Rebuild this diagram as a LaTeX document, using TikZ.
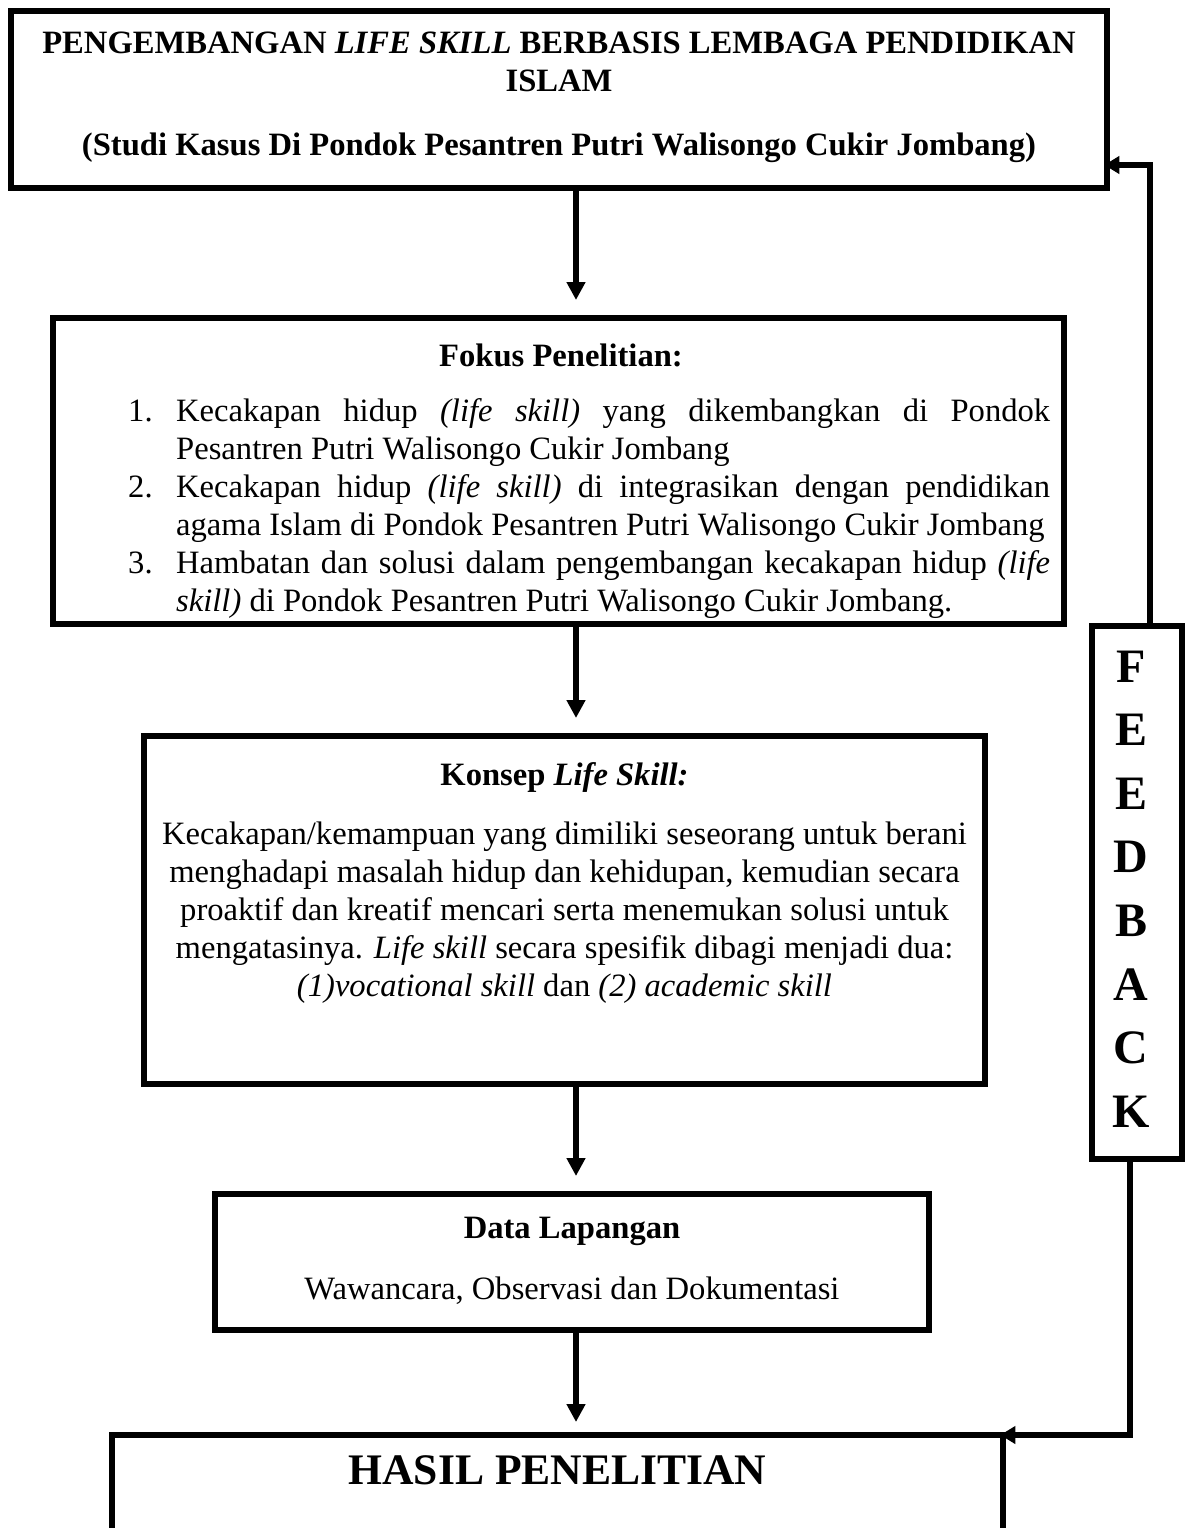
\documentclass[tikz,border=0pt]{standalone}
\usepackage{fontspec}
\setmainfont{Liberation Serif}
\usetikzlibrary{arrows.meta}
\newcommand\myBody{\fontsize{32.6pt}{38pt}\selectfont}
\newcommand\myBig{\fontsize{43.6pt}{50pt}\selectfont\bfseries}
\newcommand\myFb{\fontsize{48pt}{56pt}\selectfont\bfseries}
\begin{document}
\begin{tikzpicture}[x=1pt,y=-1pt,
  box/.style={draw, line width=5.5pt, outer sep=0pt, inner sep=0pt, anchor=north west},
  arr/.style={line width=5.5pt, -{Triangle[width=18pt,length=18pt]}},
  fbarr/.style={line width=5.5pt, -{Triangle[width=17pt,length=15pt]}},
  txt/.style={anchor=base, inner sep=0pt, font=\myBody},
  ttl/.style={anchor=base, inner sep=0pt, font=\myBody\bfseries},
  item/.style={anchor=base west, inner sep=0pt, font=\myBody, text width=874pt, align=justify},
  num/.style={anchor=base west, inner sep=0pt, font=\myBody},
  fbl/.style={anchor=base, inner sep=0pt, font=\myFb}]
\useasboundingbox (0,0) rectangle (1185,1528);
\clip (0,0) rectangle (1185,1528);
\fill[white] (0,0) rectangle (1185,1528);

% boxes
\node[box, minimum width=1096pt, minimum height=177pt] (top) at (11,11) {};
\node[box, minimum width=1011pt, minimum height=306pt] (fokus) at (53,318) {};
\node[box, minimum width=841pt, minimum height=348pt] (konsep) at (144,736) {};
\node[box, minimum width=714pt, minimum height=136pt] (data) at (215,1194) {};
\node[box, minimum width=891pt, minimum height=150pt] (hasil) at (112,1435) {};
\node[box, minimum width=90pt, minimum height=533pt] (fb) at (1092,626) {};

% top title
\node[ttl] (t1) at (559,54) {PENGEMBANGAN \textit{LIFE SKILL} BERBASIS LEMBAGA PENDIDIKAN};
\node[ttl] (t2) at (559,92) {ISLAM};
\node[ttl] (t3) at (559,155) {(Studi Kasus Di Pondok Pesantren Putri Walisongo Cukir Jombang)};

% fokus
\node[ttl] (f0) at (561,366) {Fokus Penelitian:};
\node[num] (n1) at (128,421) {1.};
\node[item] (f1) at (176,421) {Kecakapan hidup \textit{(life skill)} yang dikembangkan di Pondok\linebreak Pesantren Putri Walisongo Cukir Jombang};
\node[num] (n2) at (128,497) {2.};
\node[item] (f2) at (176,497) {Kecakapan hidup \textit{(life skill)} di integrasikan dengan pendidikan\linebreak agama Islam di Pondok Pesantren Putri Walisongo Cukir Jombang};
\node[num] (n3) at (128,573) {3.};
\node[item] (f3) at (176,573) {Hambatan dan solusi dalam pengembangan kecakapan hidup \textit{(life}\linebreak \textit{skill)} di Pondok Pesantren Putri Walisongo Cukir Jombang.};

% konsep
\node[ttl] (k0) at (564.5,785) {Konsep \textit{Life Skill:}};
\node[txt] (k1) at (564.5,844) {Kecakapan/kemampuan yang dimiliki seseorang untuk berani};
\node[txt] (k2) at (564.5,882) {menghadapi masalah hidup dan kehidupan, kemudian secara};
\node[txt] (k3) at (564.5,920) {proaktif dan kreatif mencari serta menemukan solusi untuk};
\node[txt] (k4) at (564.5,958) {mengatasinya. \textit{Life skill} secara spesifik dibagi menjadi dua:};
\node[txt] (k5) at (564.5,996) {\textit{(1)vocational skill} dan \textit{(2) academic skill}};

% data
\node[ttl] (d0) at (572,1238) {Data Lapangan};
\node[txt] (d1) at (572,1299) {Wawancara, Observasi dan Dokumentasi};

% hasil
\node[anchor=base, inner sep=0pt, font=\myBig] (h0) at (557.5,1484) {HASIL PENELITIAN};

% feedback letters
\foreach \l [count=\i] in {F,E,E,D,B,A,C,K}
  \node[fbl] (fbl\i) at (1131,{682+63.6*(\i-1)}) {\l};

% connectors
\coordinate (ax) at (576,0);
\draw[arr, shorten >=18pt] (top.south -| ax) -- (fokus.north -| ax);
\draw[arr, shorten >=18pt] (fokus.south -| ax) -- (konsep.north -| ax);
\draw[arr, shorten >=18pt] (konsep.south -| ax) -- (data.north -| ax);
\draw[arr, shorten >=13pt] (data.south -| ax) -- (hasil.north -| ax);

\coordinate (fbt) at (1150,165);
\coordinate (fbb) at (1130,1435);
\draw[fbarr, shorten >=-2.75pt] (fb.north -| fbt) |- (top.east |- fbt);
\draw[fbarr, shorten >=-2.75pt] (fb.south -| fbb) |- (hasil.north east);
\end{tikzpicture}
\end{document}
